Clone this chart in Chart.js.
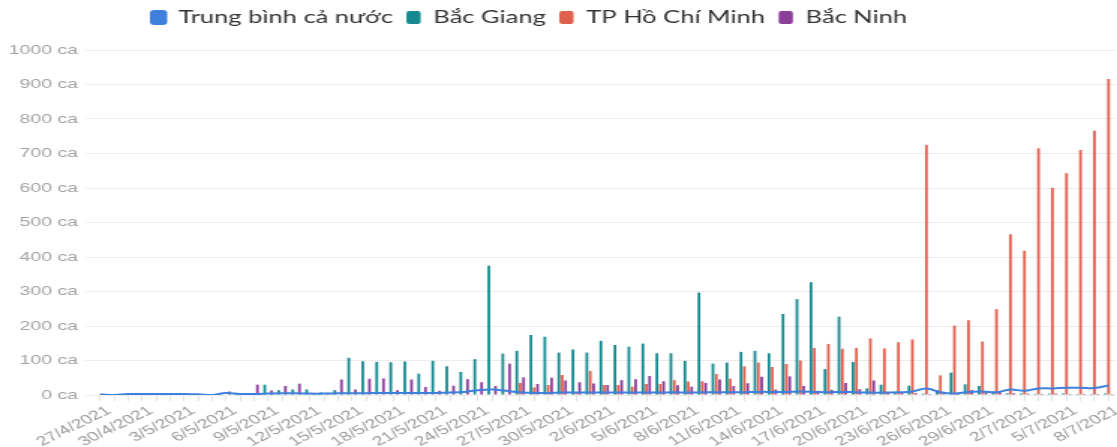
<!DOCTYPE html>
<html><head><meta charset="utf-8">
<script src="https://cdn.jsdelivr.net/npm/chart.js@4.4.1/dist/chart.umd.min.js"></script>
<style>
html,body{margin:0;padding:0;background:#fff;overflow:hidden;width:1117px;height:447px}
#wrap{position:absolute;left:0;top:0;width:745px;height:447px;transform:scaleX(1.49933);transform-origin:0 0}
</style></head><body>
<div id="wrap"><canvas id="c"></canvas></div>
<script>
const labels = ['27/4/2021','28/4/2021','29/4/2021','30/4/2021','1/5/2021','2/5/2021','3/5/2021','4/5/2021','5/5/2021','6/5/2021',
'7/5/2021','8/5/2021','9/5/2021','10/5/2021','11/5/2021','12/5/2021','13/5/2021','14/5/2021','15/5/2021','16/5/2021',
'17/5/2021','18/5/2021','19/5/2021','20/5/2021','21/5/2021','22/5/2021','23/5/2021','24/5/2021','25/5/2021','26/5/2021',
'27/5/2021','28/5/2021','29/5/2021','30/5/2021','31/5/2021','1/6/2021','2/6/2021','3/6/2021','4/6/2021','5/6/2021',
'6/6/2021','7/6/2021','8/6/2021','9/6/2021','10/6/2021','11/6/2021','12/6/2021','13/6/2021','14/6/2021','15/6/2021',
'16/6/2021','17/6/2021','18/6/2021','19/6/2021','20/6/2021','21/6/2021','22/6/2021','23/6/2021','24/6/2021','25/6/2021',
'26/6/2021','27/6/2021','28/6/2021','29/6/2021','30/6/2021','1/7/2021','2/7/2021','3/7/2021','4/7/2021','5/7/2021',
'6/7/2021','7/7/2021','8/7/2021'];

const seriesNames = ['Trung bình cả nước','Bắc Giang','TP Hồ Chí Minh','Bắc Ninh'];

const avgCases = [2,0,3,3,3,3,3,2,0,6, 3,3,4,5,5,4,4,5,5,5, 6,6,6,6,6,7,9,14,16,12,
  8,6,6,7,7,7,7,7,7,7, 7,8,7,8,8,8,8,9,9,9, 10,9,8,9,8,7,7,8,10,19,
  8,4,9,10,8,16,12,19,19,21, 21,20,28];

const bacGiang = [0,0,0,0,0,0,0,0,0,0, 0,0,30,14,16,16,7,14,108,98,
  96,95,97,62,99,83,67,104,375,120, 128,174,169,123,132,123,157,145,140,149,
  121,121,99,297,91,94,125,128,121,235, 278,327,75,227,96,19,30,5,27,4,
  14,65,31,26,10,5,4,3,4,4, 3,3,4];

const hcm = [0,0,0,0,0,0,0,0,0,0, 0,0,0,0,0,0,0,0,0,0, 0,0,0,0,0,0,0,0,0,0,
  35,22,29,58,5,70,29,29,24,32, 32,43,39,40,61,47,83,94,81,90,
  100,136,148,134,136,164,135,153,161,725, 57,201,217,155,249,466,418,715,601,643,
  710,766,916];

const bacNinh = [0,0,0,0,0,0,0,0,0,10, 0,30,13,26,33,3,6,45,16,47,
  48,14,45,23,12,27,46,37,26,91, 51,32,50,42,37,33,29,43,46,55,
  40,28,24,35,45,26,34,53,16,54, 26,12,15,35,17,42,9,6,5,3,
  7,5,14,10,8,5,4,3,4,3, 3,3,3];

const yMin = 0, yMax = 1000, yStep = 100, yUnit = ' ca';
const labelEvery = 3;

const colors = {avg:'#3f80dc', bg:'#14898f', hcm:'#e0604e', bn:'#8c3f99'};

const legendShift = {
  id: 'legendShift',
  afterLayout(chart) {
    const lg = chart.legend;
    if (!lg || !lg.lineWidths) return;
    const dy = 14;
    lg.top -= dy; lg.bottom -= dy;
    const p = lg.options.labels.padding;
    const cur = (lg.left + p + lg.right - lg.lineWidths[0]) / 2;
    const dx = cur - 101;
    lg.left -= dx; lg.right -= dx;
  }
};

new Chart(document.getElementById('c'), {
  type: 'bar',
  data: {
    labels: labels,
    datasets: [
      {type:'line', label: seriesNames[0], data: avgCases, borderColor: colors.avg, backgroundColor: colors.avg,
       borderWidth: 2, pointRadius: 0, tension: 0.4, order: 0},
      {label: seriesNames[1], data: bacGiang, backgroundColor: colors.bg, order: 1,
       categoryPercentage: 0.72, barPercentage: 0.8},
      {label: seriesNames[2], data: hcm, backgroundColor: colors.hcm, order: 1,
       categoryPercentage: 0.72, barPercentage: 0.8},
      {label: seriesNames[3], data: bacNinh, backgroundColor: colors.bn, order: 1,
       categoryPercentage: 0.72, barPercentage: 0.8}
    ]
  },
  options: {
    responsive: true,
    maintainAspectRatio: false,
    animation: false,
    layout: {padding: {top: 14, left: 0, right: 0, bottom: 0}},
    plugins: {
      legend: {
        position: 'top',
        labels: {
          font: {family: 'Lato', size: 17},
          color: '#333',
          boxWidth: 9.5, boxHeight: 13, padding: 9,
          useBorderRadius: true, borderRadius: 2
        }
      },
      tooltip: {enabled: false}
    },
    scales: {
      x: {
        offset: true,
        grid: {offset: false, drawOnChartArea: false, drawTicks: true, tickLength: 6, color: '#e2e2e2'},
        border: {display: false},
        ticks: {
          autoSkip: false, maxRotation: 36, minRotation: 36, padding: 2, labelOffset: 6,
          color: '#9b9b9b', font: {family: 'Liberation Sans', size: 13},
          callback: function(v, i) { return i % labelEvery === 0 ? labels[i] : ''; }
        },
        afterFit: function(s) { s.height = 52; s.paddingLeft = 0; s.paddingRight = 0; }
      },
      y: {
        min: yMin, max: yMax,
        grid: {color: '#ececec', tickLength: 5},
        border: {display: false},
        ticks: {
          stepSize: yStep, padding: 5, color: '#a3a3a3',
          font: {family: 'Liberation Sans', size: 13},
          callback: function(v) { return v + yUnit; }
        },
        afterFit: function(s) { s.width = 62; }
      }
    }
  },
  plugins: [legendShift]
});
</script>
</body></html>
